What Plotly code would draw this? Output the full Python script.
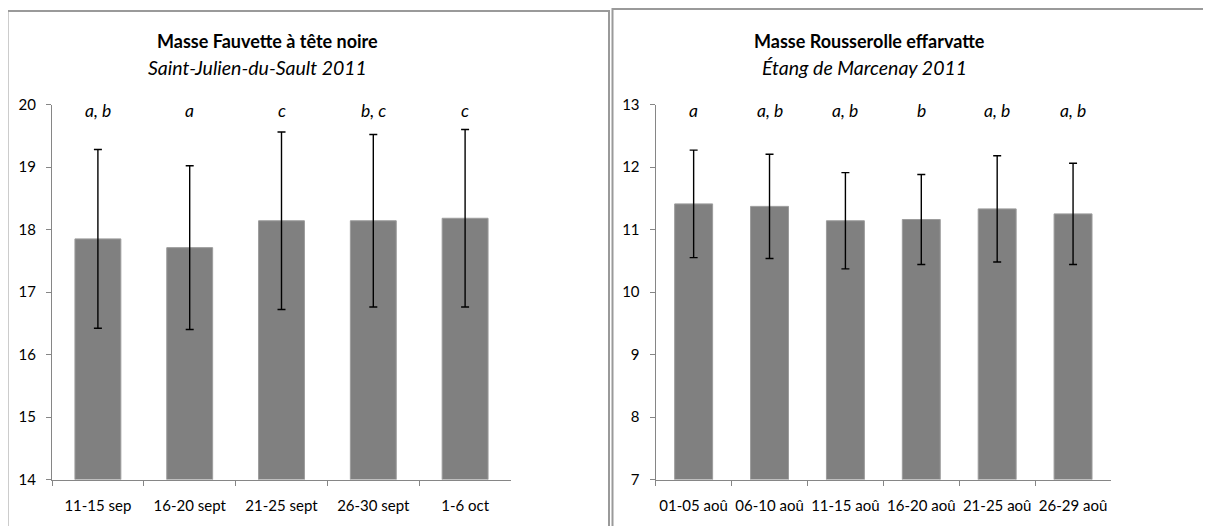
import plotly.graph_objects as go

W, H = 1211, 526
OFF = 8  # default page body margin in the browser

# ---- data ----
left_categories = ["11-15 sep", "16-20 sept", "21-25 sept", "26-30 sept", "1-6 oct"]
left_means = [17.85, 17.71, 18.14, 18.14, 18.18]
left_sd = [1.43, 1.31, 1.42, 1.38, 1.42]
left_letters = ["a, b", "a", "c", "b, c", "c"]

right_categories = ["01-05 aoû", "06-10 aoû", "11-15 aoû", "16-20 aoû", "21-25 aoû", "26-29 aoû"]
right_means = [11.41, 11.37, 11.14, 11.16, 11.33, 11.25]
right_sd = [0.86, 0.835, 0.77, 0.72, 0.85, 0.81]
right_letters = ["a", "a, b", "a, b", "b", "a, b", "a, b"]

left_title = "Masse Fauvette à tête noire"
left_subtitle = "Saint-Julien-du-Sault 2011"
right_title = "Masse Rousserolle effarvatte"
right_subtitle = "Étang de Marcenay 2011"

FONT = "Lato"
BAR = "#808080"
AXIS = "#868686"
FRAME = "#9a9a9a"


def px(x):
    return (x - OFF) / W


def py(y):
    return 1 - (y - OFF) / H


fig = go.Figure()

fig.add_trace(go.Bar(
    x=left_categories, y=left_means, xaxis="x", yaxis="y",
    marker=dict(color=BAR, line=dict(color="#9c9c9c", width=1)),
    error_y=dict(type="data", array=left_sd, visible=True, color="black", thickness=1.4, width=4),
    showlegend=False, hoverinfo="skip",
))
fig.add_trace(go.Bar(
    x=right_categories, y=right_means, xaxis="x2", yaxis="y2",
    marker=dict(color=BAR, line=dict(color="#9c9c9c", width=1)),
    error_y=dict(type="data", array=right_sd, visible=True, color="black", thickness=1.4, width=4),
    showlegend=False, hoverinfo="skip",
))

y_top, y_bot = 104.5, 479.5
tickfont = dict(family=FONT, size=15, color="black")

axis_common = dict(showgrid=False, zeroline=False, showline=True, linecolor=AXIS, linewidth=1.3,
                   ticks="outside", ticklen=5, tickcolor=AXIS, tickwidth=1.3, tickfont=tickfont,
                   automargin=False, tickangle=0)
xa = dict(type="category", tickson="boundaries", ticklabelstandoff=12, **axis_common)
ya = dict(dtick=1, ticklabelstandoff=7, **axis_common)

fig.update_layout(
    width=W, height=H, margin=dict(l=0, r=0, t=0, b=0, autoexpand=False),
    paper_bgcolor="white", plot_bgcolor="white", bargap=0.5,
    xaxis=dict(domain=[px(52), px(511)], anchor="y", **xa),
    yaxis=dict(domain=[py(y_bot), py(y_top)], anchor="x", range=[14, 20], **ya),
    xaxis2=dict(domain=[px(655.7), px(1111)], anchor="y2", **xa),
    yaxis2=dict(domain=[py(y_bot), py(y_top)], anchor="x2", range=[7, 13], **ya),
)

annotations = []
for cat, lab in zip(left_categories, left_letters):
    annotations.append(dict(x=cat, xref="x", y=py(110), yref="paper", text=lab, showarrow=False,
                            font=dict(family=FONT, size=17.5, color="black", style="italic"),
                            xanchor="center", yanchor="middle"))
for cat, lab in zip(right_categories, right_letters):
    annotations.append(dict(x=cat, xref="x2", y=py(110), yref="paper", text=lab, showarrow=False,
                            font=dict(family=FONT, size=17.5, color="black", style="italic"),
                            xanchor="center", yanchor="middle"))

titles = [
    (left_title, 267.5, 41, "bold", "normal", 18),
    (left_subtitle, 258, 67.5, "normal", "italic", 19.5),
    (right_title, 869.7, 41, "bold", "normal", 18),
    (right_subtitle, 864.7, 67.5, "normal", "italic", 19.5),
]
for text, x, y, weight, style, size in titles:
    annotations.append(dict(x=px(x), xref="paper", y=py(y), yref="paper", text=text, showarrow=False,
                            font=dict(family=FONT, size=size, color="black", weight=weight, style=style),
                            xanchor="center", yanchor="middle"))
fig.update_layout(annotations=annotations)

# panel frames
fig.add_shape(type="rect", xref="paper", yref="paper", x0=px(7.5), x1=px(609), y0=py(600), y1=py(11),
              line=dict(color=FRAME, width=2), layer="below")
fig.add_shape(type="rect", xref="paper", yref="paper", x0=px(612.5), x1=px(1300), y0=py(600), y1=py(9),
              line=dict(color=FRAME, width=2), layer="below")

fig.write_html("out.html", config={"displayModeBar": False})
